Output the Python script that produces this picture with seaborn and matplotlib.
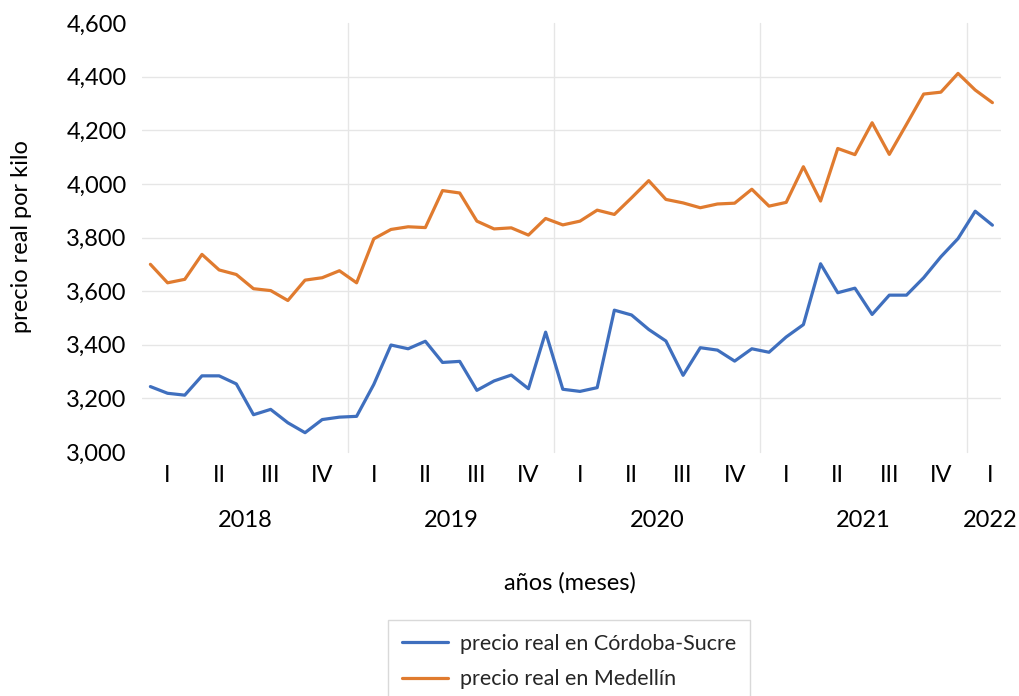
import numpy as np
import pandas as pd
import matplotlib
matplotlib.use("Agg")
import matplotlib.pyplot as plt
import matplotlib.transforms as mtransforms
from matplotlib.lines import Line2D
import seaborn as sns

# Monthly series, Jan 2018 - Feb 2022
years = ["2018", "2019", "2020", "2021", "2022"]
quarters = ["I", "II", "III", "IV"]
months_in_last_year = 2

cordoba_sucre = [3244, 3219, 3212, 3284, 3284, 3254, 3139, 3159, 3109, 3072, 3121, 3130,
                 3133, 3252, 3399, 3385, 3413, 3334, 3338, 3230, 3265, 3287, 3236, 3447,
                 3234, 3226, 3240, 3529, 3511, 3457, 3414, 3286, 3389, 3380, 3339, 3385,
                 3372, 3429, 3475, 3702, 3594, 3611, 3513, 3585, 3585, 3650, 3728, 3796,
                 3898, 3846]
medellin = [3700, 3631, 3644, 3737, 3679, 3662, 3609, 3602, 3565, 3641, 3650, 3676,
            3631, 3795, 3830, 3840, 3837, 3975, 3966, 3861, 3832, 3836, 3809, 3871,
            3847, 3861, 3902, 3886, 3948, 4012, 3942, 3929, 3911, 3925, 3928, 3980,
            3917, 3931, 4064, 3936, 4132, 4109, 4228, 4110, 4222, 4335, 4342, 4412,
            4350, 4303]

series_names = ["precio real en Córdoba-Sucre", "precio real en Medellín"]
colors = ["#3F6FBE", "#E07B2F"]

n = len(cordoba_sucre)
df = pd.DataFrame({
    "mes": list(range(n)) * 2,
    "precio": cordoba_sucre + medellin,
    "serie": [series_names[0]] * n + [series_names[1]] * n,
})

sns.set_theme(style="white")
plt.rcParams["font.family"] = ["Lato", "DejaVu Sans"]

fig = plt.figure(figsize=(10.2, 6.96), dpi=100)
ax = fig.add_axes([141.8 / 1020, 1 - 452 / 696, (1001 - 141.8) / 1020, (452 - 23) / 696])

sns.lineplot(data=df, x="mes", y="precio", hue="serie", palette=colors,
             linewidth=2.3, ax=ax, legend=False)

ax.set_xlim(-0.5, n - 0.5)
ax.set_ylim(3000, 4600)
yt = np.arange(3000, 4601, 200)
ax.set_yticks(yt)
ax.set_yticklabels([f"{v:,.0f}" for v in yt], fontsize=17, color="#000000")
ax.tick_params(axis="y", length=0, pad=11)
ax.set_xticks([])
ax.set_xlabel("")
ax.set_ylabel("")
for s in ax.spines.values():
    s.set_visible(False)

# horizontal gridlines (inner ones only)
for v in yt[1:-1]:
    ax.axhline(v, color="#E6E6E6", linewidth=1.0, zorder=0)

# year separators
trans = mtransforms.blended_transform_factory(ax.transData, ax.transAxes)
for i in range(1, len(years)):
    ax.plot([12 * i - 0.5] * 2, [0, 1], transform=trans, color="#E6E6E6",
            linewidth=1.0, zorder=0, clip_on=False)

# category labels: quarters and years
for i, yr in enumerate(years):
    nm = 12 if i < len(years) - 1 else months_in_last_year
    start = 12 * i - 0.5
    nq = int(np.ceil(nm / 3))
    for q in range(nq):
        q_start = start + 3 * q
        q_end = min(start + 3 * q + 3, start + nm)
        xc = (q_start + q_end) / 2
        if i == len(years) - 1:
            xc += 0.35
        ax.text(xc, -0.055, quarters[q], transform=trans, ha="center", va="center",
                fontsize=17, color="#000000")
    xc = start + nm / 2
    if i == len(years) - 1:
        xc += 0.35
    ax.text(xc, -0.16, yr, transform=trans, ha="center", va="center",
            fontsize=17, color="#000000")

fig.text(570 / 1020, 1 - 583 / 696, "años (meses)", ha="center", va="center",
         fontsize=17, color="#000000")
fig.text(22 / 1020, 1 - 237 / 696, "precio real por kilo", ha="center", va="center",
         rotation=90, fontsize=17, color="#000000")

handles = [Line2D([0], [0], color=c, linewidth=2.3) for c in colors]
leg = fig.legend(handles, series_names, loc="upper left",
                 bbox_to_anchor=(388 / 1020, 1 - 620 / 696), fontsize=15.5,
                 frameon=True, fancybox=False, edgecolor="#D9D9D9", framealpha=1,
                 handlelength=2.15, handletextpad=0.55, labelspacing=0.7,
                 borderpad=0.65, borderaxespad=0)
leg.get_frame().set_linewidth(1.0)

fig.savefig("out.png", dpi=100)
